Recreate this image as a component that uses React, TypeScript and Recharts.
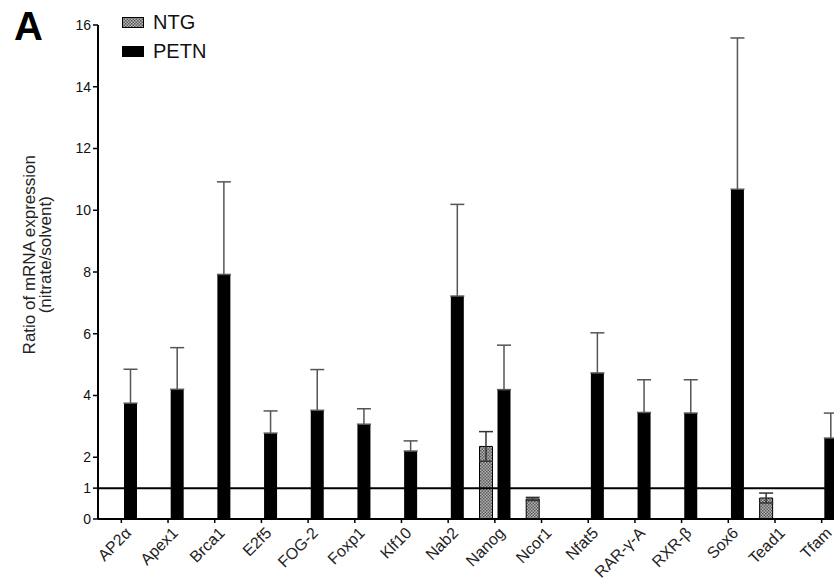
import React from 'react';
import { BarChart, Bar, XAxis, YAxis, ErrorBar, ReferenceLine, Legend } from 'recharts';

const categories = ['AP2α', 'Apex1', 'Brca1', 'E2f5', 'FOG-2', 'Foxp1', 'Klf10', 'Nab2', 'Nanog', 'Ncor1', 'Nfat5', 'RAR-γ-A', 'RXR-β', 'Sox6', 'Tead1', 'Tfam'];
const ntgValues: (number | null)[] = [null, null, null, null, null, null, null, null, 2.35, 0.65, null, null, null, null, 0.68, null];
const ntgErrors: (number | null)[] = [null, null, null, null, null, null, null, null, 0.48, 0.05, null, null, null, null, 0.16, null];
const petnValues: (number | null)[] = [3.75, 4.2, 7.92, 2.78, 3.52, 3.07, 2.2, 7.22, 4.19, null, 4.73, 3.45, 3.43, 10.68, null, 2.62];
const petnErrors: (number | null)[] = [1.1, 1.35, 3.0, 0.72, 1.32, 0.5, 0.33, 2.97, 1.44, null, 1.3, 1.06, 1.08, 4.9, null, 0.81];
const yTicks = [0, 1, 2, 4, 6, 8, 10, 12, 14, 16];
const seriesNames = ['NTG', 'PETN'];
const yLabelLines = ['Ratio of mRNA expression', '(nitrate/solvent)'];
const panelLetter = 'A';

const data = categories.map((c, i) => ({
  name: c,
  NTG: ntgValues[i],
  NTGerr: ntgErrors[i] ?? 0,
  PETN: petnValues[i],
  // PETN bars only show the upper half of the error bar
  PETNerr: [0, petnErrors[i] ?? 0],
}));

const FONT = '"Liberation Sans", Arial, Helvetica, sans-serif';
const fills: Record<string, string> = { NTG: 'url(#ntgPattern)', PETN: '#000' };

const YLabel = (props: any) => {
  const vb = props.viewBox || { x: 0, y: 0, width: 0, height: 0 };
  const cy = vb.y + vb.height * 0.465;
  const x1 = 35;
  return (
    <text
      transform={`rotate(-90 ${x1} ${cy})`}
      x={x1}
      y={cy}
      textAnchor="middle"
      fontSize={17}
      fill="#222"
      fontFamily={FONT}
    >
      <tspan x={x1} y={cy}>{yLabelLines[0]}</tspan>
      <tspan x={x1} y={cy + 16}>{yLabelLines[1]}</tspan>
    </text>
  );
};

const LegendContent = () => (
  <div style={{ fontFamily: FONT, fontSize: 20, color: '#111', lineHeight: '29px' }}>
    {seriesNames.map((n) => (
      <div key={n} style={{ display: 'flex', alignItems: 'center' }}>
        <svg width={22} height={11} style={{ marginRight: 9 }}>
          <rect x={0.5} y={0.5} width={21} height={10} fill={fills[n]} stroke="#000" strokeWidth={1} />
        </svg>
        <span>{n}</span>
      </div>
    ))}
  </div>
);

export default function App() {
  return (
    <div style={{ position: 'absolute', left: 0, top: 0, width: 834, height: 582, overflow: 'hidden', background: '#fff' }}>
      <div style={{ position: 'absolute', left: 14, top: 6, fontFamily: FONT, fontWeight: 'bold', fontSize: 40, lineHeight: '40px', color: '#000' }}>
        {panelLetter}
      </div>
      <BarChart
        width={850}
        height={582}
        data={data}
        margin={{ top: 25, right: 5, left: 0, bottom: 3 }}
        barSize={13}
        barGap={5}
      >
        <defs>
          <pattern id="ntgPattern" width="3" height="3" patternUnits="userSpaceOnUse">
            <rect width="3" height="3" fill="#b4b4b4" />
            <rect width="1.5" height="1.5" fill="#5a5a5a" />
            <rect x="1.5" y="1.5" width="1.5" height="1.5" fill="#5a5a5a" />
          </pattern>
        </defs>
        <XAxis
          dataKey="name"
          interval={0}
          height={60}
          angle={-45}
          textAnchor="end"
          tick={{ fontSize: 16, fill: '#222', fontFamily: FONT, dx: 3, dy: 0 }}
          tickSize={4}
          tickMargin={3}
          axisLine={{ stroke: '#000', strokeWidth: 2 }}
          tickLine={{ stroke: '#000', strokeWidth: 1.5 }}
        />
        <YAxis
          width={98}
          domain={[0, 16]}
          ticks={yTicks}
          interval={0}
          tickSize={5}
          tick={{ fontSize: 14, fill: '#111', fontFamily: FONT }}
          axisLine={{ stroke: '#000', strokeWidth: 2 }}
          tickLine={{ stroke: '#000', strokeWidth: 1.5 }}
          label={<YLabel />}
        />
        <Legend
          layout="vertical"
          align="center"
          verticalAlign="middle"
          content={<LegendContent />}
          wrapperStyle={{ left: 122, top: 8, width: 'auto', height: 'auto' }}
        />
        <Bar dataKey="NTG" name="NTG" fill="url(#ntgPattern)" stroke="#000" strokeWidth={1} isAnimationActive={false}>
          <ErrorBar dataKey="NTGerr" width={7} stroke="#333" strokeWidth={1.5} direction="y" />
        </Bar>
        <Bar dataKey="PETN" name="PETN" fill="#000" isAnimationActive={false}>
          <ErrorBar dataKey="PETNerr" width={7} stroke="#555" strokeWidth={1.5} direction="y" />
        </Bar>
        <ReferenceLine y={1} stroke="#000" strokeWidth={2} />
      </BarChart>
    </div>
  );
}
